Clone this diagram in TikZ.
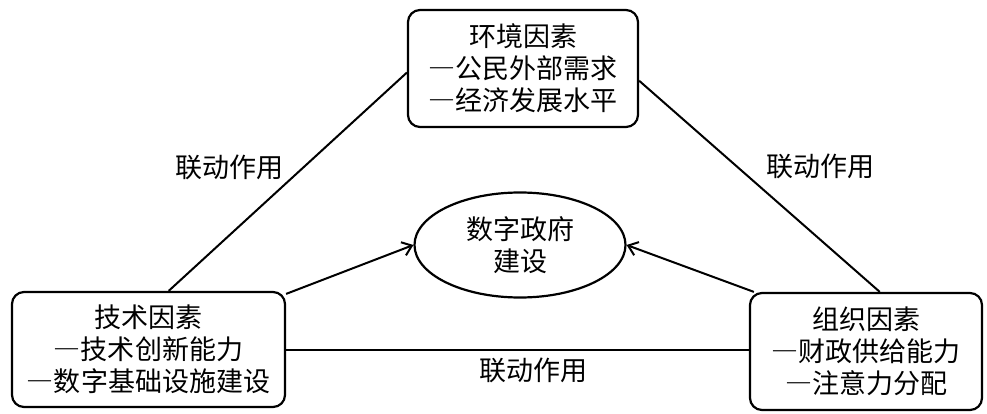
\documentclass[tikz,border=0pt]{standalone}
\usepackage{fontspec}
\setmainfont{Noto Sans CJK SC}
\usetikzlibrary{shapes.geometric,arrows.meta}
\newcommand\fdash{{\addfontfeature{CharacterWidth=Full}—}}
\begin{document}
\begin{tikzpicture}[x=1pt,y=-1pt]
\tikzstyle{every node}+=[inner sep=0pt, font=\fontsize{27}{32}\selectfont]
\tikzstyle{factor}=[draw=black, line width=2.2pt, rounded corners=12pt, align=center]
\tikzstyle{link}=[black, line width=2pt]
\useasboundingbox (0,0) rectangle (987,414);
\node [factor, minimum width=230pt, minimum height=117pt] (env) at (523,68.5) {环境因素\\\fdash 公民外部需求\\\fdash 经济发展水平};
\node [factor, minimum width=273pt, minimum height=115pt] (tech) at (148.5,349.5) {技术因素\\\fdash 技术创新能力\\\fdash 数字基础设施建设};
\node [factor, minimum width=232pt, minimum height=117pt] (org) at (866,351.5) {组织因素\\\fdash 财政供给能力\\\fdash 注意力分配};
\node [draw=black, line width=2.2pt, ellipse, minimum width=211pt, minimum height=105pt, align=center] (gov) at (520,245) {数字政府\\建设};
\draw [link] (tech.71) -- (env.182);
\draw [link] (env.354) -- (org.77);
\draw [link] (tech) -- (tech -| org.west);
\draw [link, -{Straight Barb[length=9pt,width=14pt]}] (tech.22) -- (gov.west);
\draw [link, -{Straight Barb[length=9pt,width=14pt]}] (org.152) -- (gov.east);
\node (linkl) at (229,167) {联动作用};
\node (linkr) at (820,166) {联动作用};
\node (linkb) at (533,370) {联动作用};
\end{tikzpicture}
\end{document}
